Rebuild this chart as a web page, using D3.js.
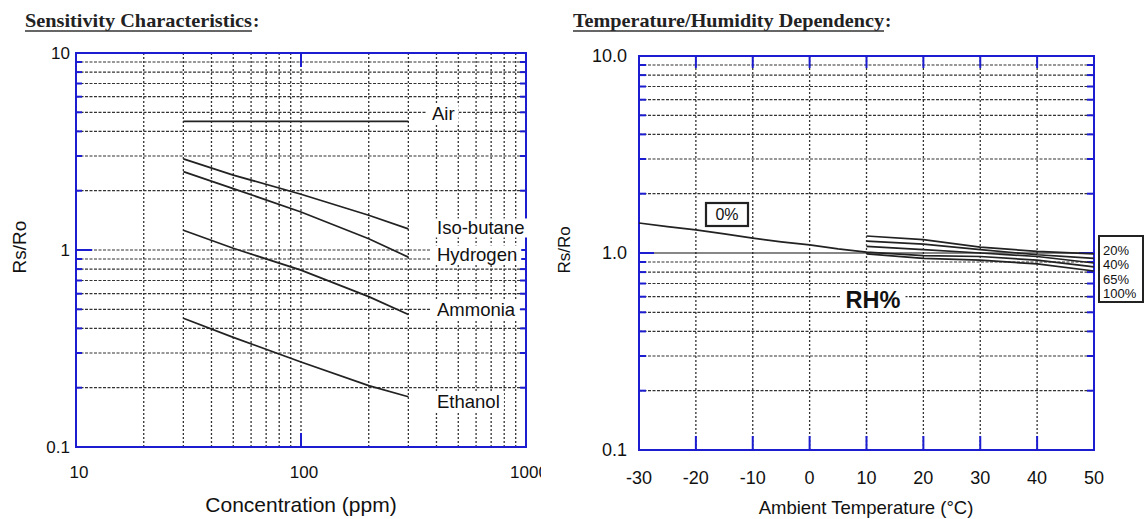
<!DOCTYPE html>
<html><head><meta charset="utf-8">
<script src="https://cdn.jsdelivr.net/npm/d3@7"></script>
<style>
html,body{margin:0;padding:0;background:#fff;}
svg{display:block;}
text{font-family:"Liberation Sans",Arial,Helvetica,sans-serif;fill:#111;}
</style></head>
<body>
<svg id="c" width="1146" height="519"></svg>
<script>
// ---------- data: Sensitivity Characteristics ----------
const concentrations = [30, 50, 100, 200, 300];
const airRatio      = [4.5, 4.5, 4.5, 4.5, 4.5];
const isoButane     = [2.9, 2.4, 1.92, 1.5, 1.28];
const hydrogen      = [2.5, 2.05, 1.56, 1.14, 0.92];
const ammonia       = [1.26, 1.02, 0.79, 0.58, 0.47];
const ethanol       = [0.45, 0.36, 0.27, 0.205, 0.18];
const gasNames      = ["Air", "Iso-butane", "Hydrogen", "Ammonia", "Ethanol"];
const concTicks     = [10, 100, 1000];
const ratioTicks    = [0.1, 1, 10];
const ratioTickLabels = ["0.1", "1", "10"];

// ---------- data: Temperature / Humidity Dependency ----------
const temps0  = [-30, -25, -20, -15, -10, -5, 0, 5, 10, 20, 30, 40, 50];
const rh0     = [1.42, 1.36, 1.31, 1.25, 1.19, 1.14, 1.10, 1.05, 1.01, 0.97, 0.96, 0.92, 0.85];
const tempsRH = [10, 20, 30, 40, 50];
const rh20    = [1.22, 1.17, 1.07, 1.02, 0.99];
const rh40    = [1.15, 1.11, 1.04, 0.98, 0.94];
const rh65    = [1.08, 1.04, 1.00, 0.96, 0.89];
const rh100   = [0.99, 0.94, 0.92, 0.88, 0.81];
const rhLegend = ["20%", "40%", "65%", "100%"];
const tempTicks = [-30, -20, -10, 0, 10, 20, 30, 40, 50];
const rrTicks = [0.1, 1, 10];
const rrTickLabels = ["0.1", "1.0", "10.0"];

const BLUE = "#1c1cd0";
const svg = d3.select("#c");

function minorLogValues(lo, hi){
  const out=[];
  for(let d=lo; d<hi; d*=10){ for(let k=1;k<10;k++){ out.push(+(d*k).toPrecision(3)); } }
  out.push(hi); return out;
}

function title(x, y, main, len){
  const g = svg.append("g");
  g.append("text").attr("x",x).attr("y",y)
    .style("font-family",'"Liberation Serif","Times New Roman",serif')
    .style("font-weight","bold").style("font-size","19px").style("fill","#222")
    .attr("textLength",len).attr("lengthAdjust","spacingAndGlyphs").text(main);
  g.append("text").attr("x",x+len+1).attr("y",y)
    .style("font-family",'"Liberation Serif","Times New Roman",serif')
    .style("font-weight","bold").style("font-size","19px").style("fill","#222").text(":");
  g.append("line").attr("x1",x).attr("x2",x+len).attr("y1",y+4).attr("y2",y+4)
    .attr("stroke","#333").attr("stroke-width",1.5);
}
title(25, 27, "Sensitivity Characteristics", 227);
title(573, 27, "Temperature/Humidity Dependency", 311);

// ================= LEFT CHART =================
{
  const x = d3.scaleLog().domain([10,1000]).range([76,526]);
  const y = d3.scaleLog().domain([0.1,10]).range([447,53]);
  const g = svg.append("g");
  const clip = svg.append("clipPath").attr("id","lclip");
  clip.append("rect").attr("x",0).attr("y",0).attr("width",541).attr("height",519);
  const gl = g.append("g").attr("clip-path","url(#lclip)");

  const xv = minorLogValues(10,1000).filter(v=>v>10 && v<1000);
  const yv = minorLogValues(0.1,10).filter(v=>v>0.1 && v<10);
  // grid
  gl.append("g").selectAll("line").data(xv).join("line")
    .attr("x1",d=>x(d)).attr("x2",d=>x(d)).attr("y1",y(10)).attr("y2",y(0.1))
    .attr("stroke","#333").attr("stroke-width",1.3).attr("stroke-dasharray","2,2");
  gl.append("g").selectAll("line").data(yv).join("line")
    .attr("x1",x(10)).attr("x2",x(1000)).attr("y1",d=>y(d)).attr("y2",d=>y(d))
    .attr("stroke","#333").attr("stroke-width",1.2).attr("stroke-dasharray","3,1.5");
  // blue ticks (inside frame)
  gl.append("g").selectAll("line").data(yv).join("line")
    .attr("x1",x(10)).attr("x2",d=>x(10)+(d===1?16:6)).attr("y1",d=>y(d)).attr("y2",d=>y(d))
    .attr("stroke",BLUE).attr("stroke-width",2);
  gl.append("g").selectAll("line").data(yv).join("line")
    .attr("x1",x(1000)).attr("x2",d=>x(1000)-(d===1?16:6)).attr("y1",d=>y(d)).attr("y2",d=>y(d))
    .attr("stroke",BLUE).attr("stroke-width",2);
  [y(0.1), y(10)].forEach((yy,i)=>{
    gl.append("line").attr("x1",x(100)).attr("x2",x(100))
      .attr("y1",yy).attr("y2",yy+(i===0?-14:14)).attr("stroke",BLUE).attr("stroke-width",2);
  });
  // frame
  gl.append("rect").attr("x",x(10)).attr("y",y(10)).attr("width",x(1000)-x(10)).attr("height",y(0.1)-y(10))
    .attr("fill","none").attr("stroke",BLUE).attr("stroke-width",2);

  // lines
  const series = [airRatio, isoButane, hydrogen, ammonia, ethanol];
  const line = d3.line().x((d,i)=>x(concentrations[i])).y(d=>y(d));
  gl.append("g").selectAll("path").data(series).join("path")
    .attr("d",d=>line(d)).attr("fill","none").attr("stroke","#222").attr("stroke-width",1.7);

  // series labels with white background
  const labY = [114, 228, 255, 310, 402];
  const labX = [432, 437, 437, 437, 437];
  gasNames.forEach((n,i)=>{
    const t = gl.append("text").attr("x",labX[i]).attr("y",labY[i]).attr("dy","0.35em")
      .style("font-size","18.5px").text(n);
    const bb = t.node().getBBox();
    gl.insert("rect", function(){return t.node();})
      .attr("x",bb.x-6).attr("y",bb.y+1).attr("width",bb.width+10).attr("height",bb.height-2)
      .attr("fill","#fff");
  });

  // axis labels
  gl.append("g").selectAll("text").data(concTicks).join("text")
    .attr("x",d=>x(d)+3).attr("y",472).attr("dy","0.35em").attr("text-anchor","middle")
    .style("font-size","17px").text(d=>d);
  g.append("g").selectAll("text").data(ratioTicks).join("text")
    .attr("x",70).attr("y",d=>y(d)).attr("dy","0.35em").attr("text-anchor","end")
    .style("font-size","17px").text((d,i)=>ratioTickLabels[i]);
  g.append("text").attr("x",301).attr("y",505).attr("dy","0.35em").attr("text-anchor","middle")
    .style("font-size","21px").text("Concentration (ppm)");
  g.append("text").attr("transform","translate(19,247) rotate(-90)").attr("dy","0.35em")
    .attr("text-anchor","middle").style("font-size","19px").text("Rs/Ro");
}

// ================= RIGHT CHART =================
{
  const x = d3.scaleLinear().domain([-30,50]).range([639,1094]);
  const y = d3.scaleLog().domain([0.1,10]).range([450,56]);
  const g = svg.append("g");
  const yv = minorLogValues(0.1,10).filter(v=>v>0.1 && v<10 && v!==1);
  const xv = tempTicks.filter(v=>v>-30 && v<50);

  g.append("g").selectAll("line").data(xv).join("line")
    .attr("x1",d=>x(d)).attr("x2",d=>x(d)).attr("y1",y(10)).attr("y2",y(0.1))
    .attr("stroke","#333").attr("stroke-width",1.3).attr("stroke-dasharray","2,2");
  g.append("g").selectAll("line").data(yv).join("line")
    .attr("x1",x(-30)).attr("x2",x(50)).attr("y1",d=>y(d)).attr("y2",d=>y(d))
    .attr("stroke","#333").attr("stroke-width",1.2).attr("stroke-dasharray","3,1.5");
  g.append("line").attr("x1",x(-30)).attr("x2",x(50)).attr("y1",y(1)).attr("y2",y(1))
    .attr("stroke","#111").attr("stroke-width",1.2);
  // blue ticks
  const yAll = yv.concat([1]);
  g.append("g").selectAll("line").data(yAll).join("line")
    .attr("x1",x(-30)).attr("x2",d=>x(-30)+(d===1?15:7)).attr("y1",d=>y(d)).attr("y2",d=>y(d))
    .attr("stroke",BLUE).attr("stroke-width",2);
  g.append("g").selectAll("line").data(yAll).join("line")
    .attr("x1",x(50)).attr("x2",d=>x(50)-(d===1?15:7)).attr("y1",d=>y(d)).attr("y2",d=>y(d))
    .attr("stroke",BLUE).attr("stroke-width",2);
  g.append("g").selectAll("line").data(xv).join("line")
    .attr("x1",d=>x(d)).attr("x2",d=>x(d)).attr("y1",y(0.1)).attr("y2",y(0.1)-14)
    .attr("stroke",BLUE).attr("stroke-width",2);
  g.append("g").selectAll("line").data(xv).join("line")
    .attr("x1",d=>x(d)).attr("x2",d=>x(d)).attr("y1",y(10)).attr("y2",y(10)+12)
    .attr("stroke",BLUE).attr("stroke-width",2);
  g.append("rect").attr("x",x(-30)).attr("y",y(10)).attr("width",x(50)-x(-30)).attr("height",y(0.1)-y(10))
    .attr("fill","none").attr("stroke",BLUE).attr("stroke-width",2);

  // curves
  const l0 = d3.line().x((d,i)=>x(temps0[i])).y(d=>y(d));
  g.append("path").attr("d",l0(rh0)).attr("fill","none").attr("stroke","#222").attr("stroke-width",1.7);
  const lr = d3.line().x((d,i)=>x(tempsRH[i])).y(d=>y(d));
  g.append("g").selectAll("path").data([rh20,rh40,rh65,rh100]).join("path")
    .attr("d",d=>lr(d)).attr("fill","none").attr("stroke","#222").attr("stroke-width",1.7);

  // 0% box
  g.append("rect").attr("x",706).attr("y",203).attr("width",42).attr("height",23)
    .attr("fill","#fff").attr("stroke","#222").attr("stroke-width",2.2);
  g.append("text").attr("x",727).attr("y",214.5).attr("dy","0.35em").attr("text-anchor","middle")
    .style("font-size","16px").text("0%");

  // RH% label
  const rt = g.append("text").attr("x",873).attr("y",300).attr("dy","0.35em").attr("text-anchor","middle")
    .style("font-size","23.5px").style("font-weight","bold").text("RH%");
  const bb = rt.node().getBBox();
  g.insert("rect",function(){return rt.node();}).attr("x",bb.x-5).attr("y",bb.y+2)
    .attr("width",bb.width+10).attr("height",bb.height-4).attr("fill","#fff");

  // legend box
  g.append("rect").attr("x",1099).attr("y",236).attr("width",44).attr("height",66)
    .attr("fill","#fff").attr("stroke","#222").attr("stroke-width",2);
  g.append("g").selectAll("text").data(rhLegend).join("text")
    .attr("x",1103).attr("y",(d,i)=>250+i*14.5).attr("dy","0.35em")
    .style("font-size","13px").text(d=>d);

  // axes labels
  g.append("g").selectAll("text").data(tempTicks).join("text")
    .attr("x",d=>x(d)).attr("y",478).attr("dy","0.35em").attr("text-anchor","middle")
    .style("font-size","18px").text(d=>d);
  g.append("g").selectAll("text").data(rrTicks).join("text")
    .attr("x",627).attr("y",d=>y(d)).attr("dy","0.35em").attr("text-anchor","end")
    .style("font-size","18px").text((d,i)=>rrTickLabels[i]);
  g.append("text").attr("x",866).attr("y",508).attr("dy","0.35em").attr("text-anchor","middle")
    .style("font-size","18.5px").text("Ambient Temperature (°C)");
  g.append("text").attr("transform","translate(564,250) rotate(-90)").attr("dy","0.35em")
    .attr("text-anchor","middle").style("font-size","17px").text("Rs/Ro");
}
</script>
</body></html>
